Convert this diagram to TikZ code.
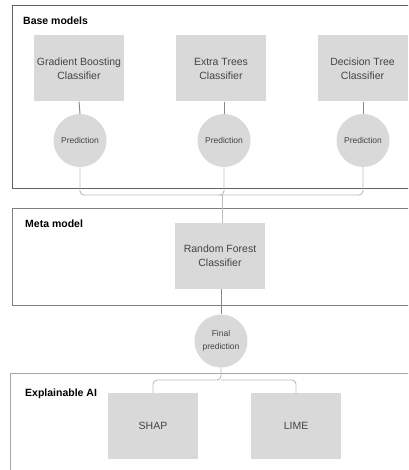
\documentclass[tikz,border=0pt]{standalone}
\usepackage{fontspec}
\setmainfont{Liberation Sans}
\begin{document}
\begin{tikzpicture}[x=1pt,y=-1pt,
  model/.style={fill=boxgray, draw=none, minimum width=90pt, minimum height=66pt, inner sep=0pt, align=center, text=txt, font=\fontsize{10.5}{14}\selectfont},
  pred/.style={circle, fill=boxgray, draw=none, minimum size=53pt, inner sep=0pt, align=center, text=txt, font=\fontsize{8.5}{13}\selectfont},
  frameA/.style={draw=#1, line width=1pt},
  head/.style={anchor=west, inner sep=0pt, font=\bfseries\fontsize{10.5}{12}\selectfont, text=black},
  dark/.style={draw=lndark, line width=1pt},
  light/.style={draw=lnlight, line width=0.9pt, rounded corners=4pt}
]
\definecolor{boxgray}{HTML}{D9D9D9}
\definecolor{txt}{HTML}{444444}
\definecolor{lndark}{HTML}{888888}
\definecolor{lnlight}{HTML}{B4BEC6}
\useasboundingbox (0,0) rectangle (408,470);
\clip (0,0) rectangle (408,470);
\fill[white] (0,0) rectangle (408,470);
% frames
\draw[frameA={black!62}] (12,5.5) rectangle (420,188);
\node[head] (hbase) at (23,21) {Base models};
\draw[frameA={black!50}] (12,208) rectangle (420,305);
\node[head] (hmeta) at (25,224) {Meta model};
\draw[frameA={black!35}] (10,373) rectangle (420,480);
\node[head] (hxai) at (25,394) {Explainable AI};
% base models
\node[model] (gb) at (79,68.5) {Gradient Boosting\\Classifier};
\node[model] (et) at (221,68.5) {Extra Trees\\Classifier};
\node[model] (dt) at (362.5,68.5) {Decision Tree\\Classifier};
\node[pred] (p1) at (80,140.5) {Prediction};
\node[pred] (p2) at (224,140.5) {Prediction};
\node[pred] (p3) at (363,140.5) {Prediction};
\draw[dark] (gb.south) -- (p1.north);
\draw[dark] (et.south -| p2) -- (p2.north);
\draw[dark] (dt.south -| p3) -- (p3.north);
% meta
\node[model] (rf) at (220,256) {Random Forest\\Classifier};
\coordinate (m) at (222,195);
\draw[light] (p1.south) |- (m);
\draw[light] (p3.south) |- (m);
\draw[light] (p2.south) |- (m);
\draw[light] (m) -- (m |- rf.north);
% final
\node[pred] (fp) at (221,341) {Final\\prediction};
\draw[dark] (rf.south -| fp) -- (fp.north);
% xai
\node[model] (shap) at (153,426) {SHAP};
\node[model] (lime) at (296,426) {LIME};
\coordinate (s) at (221,380);
\draw[light] (fp.south) -- (s) -| (shap.north);
\draw[light] (s) -| (lime.north);
\end{tikzpicture}
\end{document}
